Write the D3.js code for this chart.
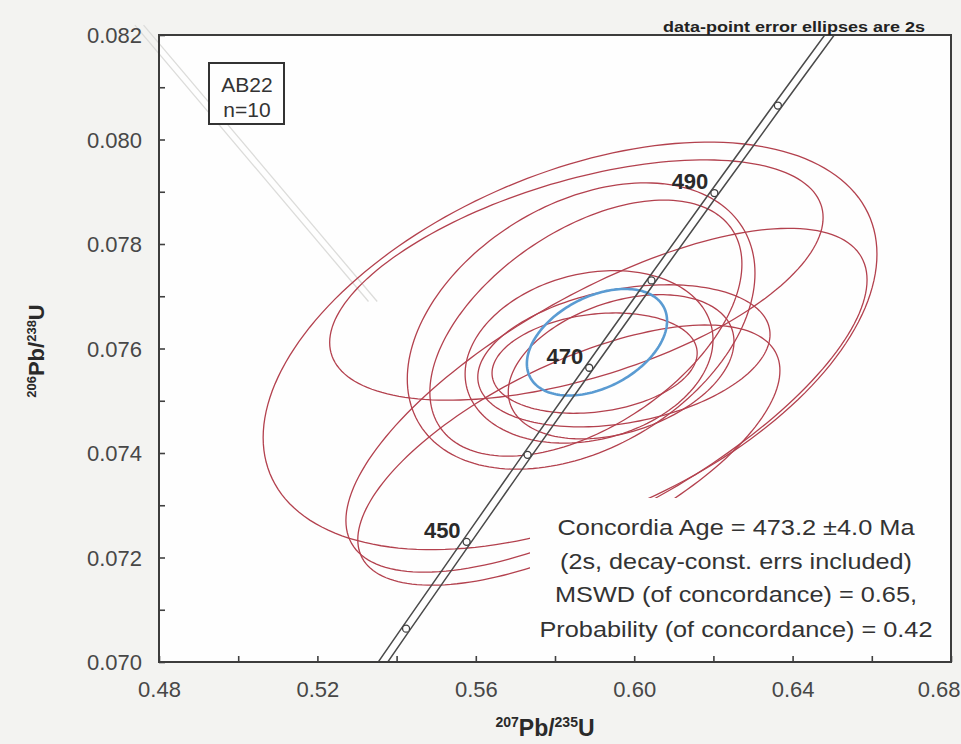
<!DOCTYPE html>
<html lang="en">
<head>
<meta charset="UTF-8">
<title>AB22 concordia</title>
<script src="https://d3js.org/d3.v7.min.js"></script>
<style>
  body { margin: 0; background: #f3f3f1; }
  svg { display: block; }
  text { font-family: "Liberation Sans", Arial, sans-serif; }
</style>
</head>
<body>
<script>
    // concordia curve (ages in Ma, 207Pb/235U, 206Pb/238U)
    const conAge = [430, 440, 450, 460, 470, 480, 490, 500, 510]
    const conX = [0.52728, 0.54239, 0.55768, 0.57307, 0.58864, 0.60436, 0.62024, 0.63628, 0.65250]
    const conY = [0.068979, 0.070638, 0.072300, 0.073965, 0.075632, 0.077302, 0.078975, 0.080650, 0.082328]
    const conLabelled = [450, 470, 490]
    const bandHalf = 0.0012

    // data-point error ellipses (2s): centre, half widths, correlation
    const ellX = [0.5838, 0.5854, 0.5930, 0.5835, 0.5866, 0.5878, 0.5886, 0.5974, 0.5900, 0.5967]
    const ellY = [0.07605, 0.07731, 0.07501, 0.07396, 0.07643, 0.07639, 0.07584, 0.07586, 0.07572, 0.07565]
    const ellSx = [0.0775, 0.0623, 0.0658, 0.0533, 0.0439, 0.0394, 0.0313, 0.0369, 0.0259, 0.0285]
    const ellSy = [0.00390, 0.00230, 0.00329, 0.00249, 0.00274, 0.00245, 0.00165, 0.00136, 0.00096, 0.00138]
    const ellRho = [0.45, 0.52, 0.7, 0.65, 0.37, 0.5, 0.2, 0.3, 0.2, 0.35]

    // concordia age ellipse
    const ageX = 0.5906
    const ageY = 0.07612
    const ageSx = 0.0177
    const ageSy = 0.00102
    const ageRho = 0.4

    // show-through from the back of the page
    const ghostX = [0.4750, 0.5340]
    const ghostY = [0.08219, 0.07690]

    const xTicks = [0.48, 0.50, 0.52, 0.54, 0.56, 0.58, 0.60, 0.62, 0.64, 0.66, 0.68]
    const xTickLabels = ["0.48", "", "0.52", "", "0.56", "", "0.60", "", "0.64", "", "0.68"]
    const yTicks = [0.070, 0.071, 0.072, 0.073, 0.074, 0.075, 0.076, 0.077, 0.078, 0.079, 0.080, 0.081, 0.082]
    const yTickLabels = ["0.070", "", "0.072", "", "0.074", "", "0.076", "", "0.078", "", "0.080", "", "0.082"]

    const statsLines = [
        "Concordia  Age = 473.2  \u00b14.0 Ma",
        "(2s,  decay-const.  errs  included)",
        "MSWD  (of concordance)  =  0.65,",
        "Probability  (of concordance)  =  0.42"
    ]
    const statsWidths = [357, 352, 362, 393]

    const width = 961
    const height = 744
    const pLeft = 159, pRight = 951, pTop = 35, pBottom = 662

    const x = d3.scaleLinear().domain([0.48, 0.68]).range([pLeft, pRight])
    const y = d3.scaleLinear().domain([0.070, 0.082]).range([pBottom, pTop])

    const svg = d3.select("body")
        .append("svg")
        .attr("width", width)
        .attr("height", height)

    svg.append("rect")
        .attr("x", pLeft).attr("y", pTop)
        .attr("width", pRight - pLeft).attr("height", pBottom - pTop)
        .attr("fill", "#fefefe")

    svg.append("clipPath").attr("id", "plot")
        .append("rect")
        .attr("x", pLeft).attr("y", pTop)
        .attr("width", pRight - pLeft).attr("height", pBottom - pTop)

    // faint mirrored band showing through the paper
    const ghost = d3.line()
    ;[-0.0011, 0.0011].forEach(off => {
        svg.append("path")
            .attr("d", ghost(ghostX.map((gx, i) => [x(gx + off), y(ghostY[i])])))
            .attr("fill", "none")
            .attr("stroke", "#dcdcda")
            .attr("stroke-width", 1.3)
    })

    function ellipsePoints(cx, cy, sx, sy, rho) {
        const s = Math.sqrt(1 - rho * rho)
        return d3.range(0, 360, 2).map(a => {
            const t = a * Math.PI / 180
            return [x(cx + sx * Math.cos(t)), y(cy + sy * (rho * Math.cos(t) + s * Math.sin(t)))]
        })
    }

    const closed = d3.line().curve(d3.curveLinearClosed)
    const plot = svg.append("g").attr("clip-path", "url(#plot)")

    plot.selectAll("path.ell")
        .data(ellX)
        .enter()
        .append("path")
        .attr("class", "ell")
        .attr("d", (d, i) => closed(ellipsePoints(ellX[i], ellY[i], ellSx[i], ellSy[i], ellRho[i])))
        .attr("fill", "none")
        .attr("stroke", "#b3414e")
        .attr("stroke-width", 1.3)

    plot.append("path")
        .attr("d", closed(ellipsePoints(ageX, ageY, ageSx, ageSy, ageRho)))
        .attr("fill", "none")
        .attr("stroke", "#5a9bd2")
        .attr("stroke-width", 2.6)

    // white panel behind the statistics
    svg.append("rect")
        .attr("x", 530).attr("y", 498)
        .attr("width", pRight - 3 - 530).attr("height", pBottom - 3 - 498)
        .attr("fill", "#fefefe")

    // concordia band
    const band = d3.line().curve(d3.curveCatmullRom)
    ;[-bandHalf, bandHalf].forEach(off => {
        plot.append("path")
            .attr("d", band(conX.map((cx, i) => [x(cx + off), y(conY[i])])))
            .attr("fill", "none")
            .attr("stroke", "#4a4a4a")
            .attr("stroke-width", 1.5)
    })

    plot.selectAll("circle")
        .data(conAge)
        .enter()
        .append("circle")
        .attr("cx", (d, i) => x(conX[i]))
        .attr("cy", (d, i) => y(conY[i]))
        .attr("r", 3.5)
        .attr("fill", "#fefefe")
        .attr("stroke", "#404040")
        .attr("stroke-width", 1.3)

    svg.selectAll("text.age")
        .data(conLabelled)
        .enter()
        .append("text")
        .attr("class", "age")
        .attr("x", d => x(conX[conAge.indexOf(d)]) - 6)
        .attr("y", d => y(conY[conAge.indexOf(d)]) - 4)
        .attr("text-anchor", "end")
        .attr("font-size", 22)
        .attr("font-weight", "bold")
        .attr("fill", "#2a2a2a")
        .text(d => d)

    // axes, ticks pointing inwards
    const xAxis = svg.append("g")
        .attr("transform", `translate(0, ${pBottom})`)
        .call(d3.axisBottom(x).tickValues(xTicks).tickSize(-6).tickSizeOuter(0).tickFormat((d, i) => xTickLabels[i]))
    xAxis.select(".domain").remove()
    xAxis.selectAll("line").attr("stroke", "#404040").attr("stroke-width", 1.6)
    xAxis.selectAll("text")
        .attr("y", 35).attr("dy", 0)
        .attr("font-size", 22)
        .attr("fill", "#474747")
        .attr("font-family", "Liberation Sans, Arial, sans-serif")
    // last label would run off the page: keep it inside
    xAxis.selectAll(".tick:last-of-type text")
        .attr("text-anchor", "end")
        .attr("x", width - 1 - x(xTicks[xTicks.length - 1]))

    const yAxis = svg.append("g")
        .attr("transform", `translate(${pLeft}, 0)`)
        .call(d3.axisLeft(y).tickValues(yTicks).tickSize(-6).tickSizeOuter(0).tickFormat((d, i) => yTickLabels[i]))
    yAxis.select(".domain").remove()
    yAxis.selectAll("line").attr("stroke", "#404040").attr("stroke-width", 1.6)
    yAxis.selectAll("text")
        .attr("x", -17).attr("dy", "0.36em")
        .attr("font-size", 22)
        .attr("fill", "#474747")
        .attr("font-family", "Liberation Sans, Arial, sans-serif")

    svg.append("rect")
        .attr("x", pLeft).attr("y", pTop)
        .attr("width", pRight - pLeft).attr("height", pBottom - pTop)
        .attr("fill", "none")
        .attr("stroke", "#3c3c3c")
        .attr("stroke-width", 2)

    // axis titles
    const yTitle = svg.append("text")
        .attr("transform", "translate(44, 351) rotate(-90)")
        .attr("text-anchor", "middle")
        .attr("font-weight", "bold")
        .attr("font-size", 22)
        .attr("fill", "#2a2a2a")
    yTitle.append("tspan").attr("font-size", 13).attr("dy", -8).text("206")
    yTitle.append("tspan").attr("dy", 8).text("Pb/")
    yTitle.append("tspan").attr("font-size", 13).attr("dy", -8).text("238")
    yTitle.append("tspan").attr("dy", 8).text("U")

    const xTitle = svg.append("text")
        .attr("x", 545).attr("y", 736)
        .attr("text-anchor", "middle")
        .attr("font-weight", "bold")
        .attr("font-size", 23)
        .attr("fill", "#2a2a2a")
    xTitle.append("tspan").attr("font-size", 14).attr("dy", -9).text("207")
    xTitle.append("tspan").attr("dy", 9).text("Pb/")
    xTitle.append("tspan").attr("font-size", 14).attr("dy", -9).text("235")
    xTitle.append("tspan").attr("dy", 9).text("U")

    svg.append("text")
        .attr("x", 925).attr("y", 32)
        .attr("text-anchor", "end")
        .attr("font-size", 15)
        .attr("font-weight", "bold")
        .attr("fill", "#222")
        .attr("textLength", 262)
        .attr("lengthAdjust", "spacingAndGlyphs")
        .text("data-point error ellipses are 2s")

    // sample box
    svg.append("rect")
        .attr("x", 209).attr("y", 63)
        .attr("width", 75).attr("height", 61)
        .attr("fill", "#fefefe")
        .attr("stroke", "#333")
        .attr("stroke-width", 2)
    svg.append("text")
        .attr("x", 247).attr("y", 92)
        .attr("text-anchor", "middle")
        .attr("font-size", 21)
        .attr("fill", "#333")
        .text("AB22")
    svg.append("text")
        .attr("x", 247).attr("y", 117)
        .attr("text-anchor", "middle")
        .attr("font-size", 21)
        .attr("fill", "#333")
        .text("n=10")

    svg.selectAll("text.stats")
        .data(statsLines)
        .enter()
        .append("text")
        .attr("class", "stats")
        .attr("x", 736)
        .attr("y", (d, i) => [535, 569, 602, 637][i])
        .attr("text-anchor", "middle")
        .attr("font-size", 22)
        .attr("fill", "#333")
        .attr("textLength", (d, i) => statsWidths[i])
        .attr("lengthAdjust", "spacingAndGlyphs")
        .text(d => d)
</script>
</body>
</html>
